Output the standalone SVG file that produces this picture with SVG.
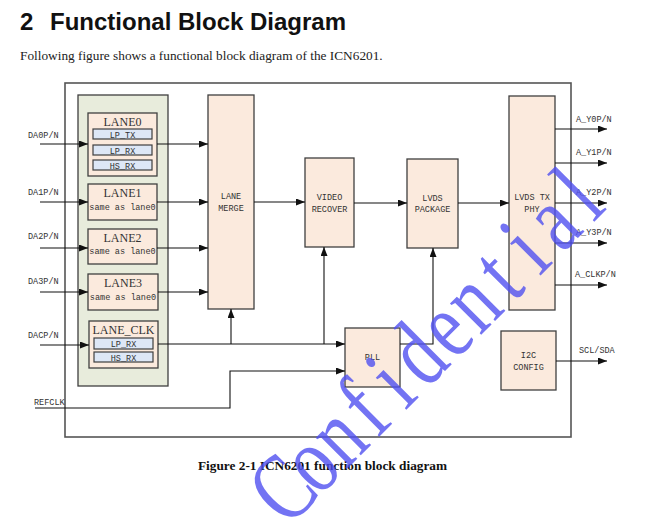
<svg xmlns="http://www.w3.org/2000/svg" width="654" height="520" viewBox="0 0 654 520">
<style>
.blk{fill:#fbeadd;stroke:#3f3f3f;stroke-width:1.3}
.sub{fill:#dde7f6;stroke:#3f3f3f;stroke-width:1.2}
.ln{fill:none;stroke:#111;stroke-width:1.1}
.lbl{font-family:"Liberation Mono",monospace;font-size:8.5px;fill:#333}
.big{font-family:"Liberation Serif",serif;font-size:12px;fill:#333;text-anchor:middle}
.mid{text-anchor:middle}
</style>
<defs>
<marker id="ah" markerUnits="userSpaceOnUse" markerWidth="10" markerHeight="8" refX="9" refY="3.5" orient="auto">
<path d="M0,0 L9,3.5 L0,7 z" fill="#111"/>
</marker>
</defs>
<rect width="654" height="520" fill="#fff"/>
<text y="29.5" font-family="Liberation Sans,Arial,sans-serif" font-weight="bold" font-size="24" fill="#111"><tspan x="20">2</tspan><tspan x="50">Functional Block Diagram</tspan></text>
<text x="20" y="60" font-family="Liberation Serif,serif" font-size="13.3" fill="#222">Following figure shows a functional block diagram of the ICN6201.</text>
<rect id="chip" x="65" y="83" width="506" height="354" fill="none" stroke="#555" stroke-width="1.6"/>
<g id="lanes">
<rect x="78" y="95" width="90" height="291" fill="#e8ecdc" stroke="#3f3f3f" stroke-width="1.3"/>
</g>
<g id="lane0">
<rect class="blk" x="88" y="113" width="69" height="63"/>
<text class="big" x="122.5" y="126">LANE0</text>
<rect class="sub" x="93" y="129" width="59" height="10"/>
<text class="lbl mid" x="122.5" y="137.5">LP_TX</text>
<rect class="sub" x="93" y="145" width="59" height="10"/>
<text class="lbl mid" x="122.5" y="153.5">LP_RX</text>
<rect class="sub" x="93" y="160" width="59" height="10"/>
<text class="lbl mid" x="122.5" y="168.5">HS_RX</text>
</g>
<g id="lane1">
<rect class="blk" x="88" y="184" width="69" height="36"/>
<text class="big" x="122.5" y="197">LANE1</text>
<text class="lbl mid" x="122.5" y="210" font-size="8">same as lane0</text>
</g>
<g id="lane2">
<rect class="blk" x="88" y="229" width="69" height="35"/>
<text class="big" x="122.5" y="242">LANE2</text>
<text class="lbl mid" x="122.5" y="254" font-size="8">same as lane0</text>
</g>
<g id="lane3">
<rect class="blk" x="88" y="274" width="70" height="36"/>
<text class="big" x="123" y="287">LANE3</text>
<text class="lbl mid" x="123" y="300" font-size="8">same as lane0</text>
</g>
<g id="laneclk">
<rect class="blk" x="89" y="321" width="69" height="47"/>
<text class="big" x="123.5" y="334">LANE_CLK</text>
<rect class="sub" x="94" y="338" width="59" height="11"/>
<text class="lbl mid" x="123.5" y="346.5">LP_RX</text>
<rect class="sub" x="94" y="352" width="59" height="10"/>
<text class="lbl mid" x="123.5" y="360.5">HS_RX</text>
</g>
<g id="lanemerge">
<rect class="blk" x="208" y="95" width="46" height="214"/>
<text class="lbl mid" x="231" y="199">LANE</text>
<text class="lbl mid" x="231" y="211">MERGE</text>
</g>
<g id="videorecover">
<rect class="blk" x="305" y="158" width="49" height="89"/>
<text class="lbl mid" x="329.5" y="200">VIDEO</text>
<text class="lbl mid" x="329.5" y="211.5">RECOVER</text>
</g>
<g id="lvdspackage">
<rect class="blk" x="407" y="159" width="51" height="89"/>
<text class="lbl mid" x="432.5" y="200.5">LVDS</text>
<text class="lbl mid" x="432.5" y="212">PACKAGE</text>
</g>
<g id="lvdstxphy">
<rect class="blk" x="509" y="96" width="46" height="214"/>
<text class="lbl mid" x="532" y="200">LVDS TX</text>
<text class="lbl mid" x="532" y="211.5">PHY</text>
</g>
<g id="pll">
<rect class="blk" x="345" y="328" width="55" height="59"/>
<text class="lbl mid" x="372.5" y="360">PLL</text>
</g>
<g id="i2c">
<rect class="blk" x="501" y="331" width="55" height="59"/>
<text class="lbl mid" x="528.5" y="358">I2C</text>
<text class="lbl mid" x="528.5" y="369.5">CONFIG</text>
</g>
<g id="connectors">
<line class="ln" x1="40" y1="144" x2="88" y2="144" marker-end="url(#ah)"/>
<line class="ln" x1="40" y1="202" x2="88" y2="202" marker-end="url(#ah)"/>
<line class="ln" x1="40" y1="248" x2="88" y2="248" marker-end="url(#ah)"/>
<line class="ln" x1="40" y1="292" x2="88" y2="292" marker-end="url(#ah)"/>
<line class="ln" x1="40" y1="345" x2="89" y2="345" marker-end="url(#ah)"/>
<line class="ln" x1="157" y1="144" x2="208" y2="144" marker-end="url(#ah)"/>
<line class="ln" x1="157" y1="202" x2="208" y2="202" marker-end="url(#ah)"/>
<line class="ln" x1="157" y1="248" x2="208" y2="248" marker-end="url(#ah)"/>
<line class="ln" x1="158" y1="292" x2="208" y2="292" marker-end="url(#ah)"/>
<line class="ln" x1="158" y1="344" x2="345" y2="344" marker-end="url(#ah)"/>
<line class="ln" x1="231" y1="344" x2="231" y2="309" marker-end="url(#ah)"/>
<line class="ln" x1="324" y1="344" x2="324" y2="247" marker-end="url(#ah)"/>
<polyline class="ln" points="35,408 230,408 230,371 345,371" marker-end="url(#ah)"/>
<line class="ln" x1="254" y1="202" x2="305" y2="202" marker-end="url(#ah)"/>
<line class="ln" x1="354" y1="203" x2="407" y2="203" marker-end="url(#ah)"/>
<line class="ln" x1="458" y1="203" x2="509" y2="203" marker-end="url(#ah)"/>
<polyline class="ln" points="400,344 433,344 433,248" marker-end="url(#ah)"/>
<line class="ln" x1="555" y1="129" x2="607" y2="129" marker-end="url(#ah)"/>
<line class="ln" x1="555" y1="163" x2="607" y2="163" marker-end="url(#ah)"/>
<line class="ln" x1="555" y1="203" x2="607" y2="203" marker-end="url(#ah)"/>
<line class="ln" x1="555" y1="243" x2="607" y2="243" marker-end="url(#ah)"/>
<line class="ln" x1="555" y1="285" x2="607" y2="285" marker-end="url(#ah)"/>
<line class="ln" x1="556" y1="361" x2="607" y2="361" marker-end="url(#ah)"/>
</g>
<g id="labels">
<text class="lbl" x="28" y="138">DA0P/N</text>
<text class="lbl" x="28" y="195">DA1P/N</text>
<text class="lbl" x="28" y="239">DA2P/N</text>
<text class="lbl" x="28" y="284">DA3P/N</text>
<text class="lbl" x="28" y="338">DACP/N</text>
<text class="lbl" x="34" y="405">REFCLK</text>
<text class="lbl" x="576" y="122" font-size="8">A_Y0P/N</text>
<text class="lbl" x="576" y="155" font-size="8">A_Y1P/N</text>
<text class="lbl" x="576" y="195" font-size="8">A_Y2P/N</text>
<text class="lbl" x="576" y="235" font-size="8">A_Y3P/N</text>
<text class="lbl" x="575" y="277" font-size="8">A_CLKP/N</text>
<text class="lbl" x="579" y="353" font-size="8">SCL/SDA</text>
</g>
<text x="198" y="470" font-family="Liberation Serif,serif" font-weight="bold" font-size="13.3" fill="#111">Figure 2-1 ICN6201 function block diagram</text>
<text transform="translate(305 511) rotate(-45) scale(1 1.3)" x="0 38 76 114 152 190 228 266 304 342 380 418" y="0" text-anchor="middle" font-family="Liberation Serif,serif" font-size="74" fill="#5050f0" fill-opacity="0.8">Confidential</text>
</svg>
